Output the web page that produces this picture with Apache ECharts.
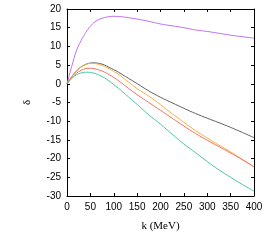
<!DOCTYPE html>
<html>
<head>
<meta charset="utf-8">
<script src="https://cdn.jsdelivr.net/npm/echarts@6/dist/echarts.min.js"></script>
<style>html,body{margin:0;padding:0;background:#fff}#c{width:275px;height:245px}</style>
</head>
<body>
<div id="c"></div>
<script>
const kValues = [0,10,20,30,40,50,60,70,80,90,100,110,125,150,175,200,225,250,275,300,325,350,375,400];
const purple = [0,4.6,8.8,11.5,13.7,15.4,16.6,17.3,17.7,17.95,18.05,18.0,17.8,17.3,16.7,16.0,15.5,15.0,14.4,14.0,13.5,13.0,12.6,12.2];
const black  = [0,1.9,3.4,4.5,5.2,5.55,5.6,5.4,5.05,4.4,3.8,3.1,1.95,0.05,-1.9,-3.6,-5.1,-6.55,-7.95,-9.2,-10.4,-11.65,-13.0,-14.4];
const orange = [0,1.9,3.4,4.5,5.15,5.45,5.4,5.1,4.7,4.0,3.3,2.55,1.1,-1.3,-3.3,-5.6,-8.0,-10.3,-12.5,-14.5,-16.4,-18.2,-20.2,-22.2];
const red    = [0,1.6,2.8,3.6,4.05,4.15,4.0,3.65,3.15,2.45,1.7,0.85,-0.6,-2.9,-5.0,-7.1,-9.2,-11.3,-13.3,-15.1,-16.8,-18.5,-20.3,-22.2];
const teal   = [0,1.4,2.4,2.9,3.1,3.05,2.75,2.25,1.6,0.75,-0.2,-1.2,-2.8,-5.5,-8.3,-10.8,-13.5,-16.1,-18.4,-20.8,-23.0,-25.0,-26.9,-28.7];
const xTicks = [0,50,100,150,200,250,300,350,400];
const yTicks = [-30,-25,-20,-15,-10,-5,0,5,10,15,20];

const pair = arr => kValues.map((k,i)=>[k,arr[i]]);
const mk = (name, arr, color) => ({
  name, type:'line', data: pair(arr), smooth: 0.4, showSymbol:false,
  lineStyle:{color, width:1}, itemStyle:{color}, animation:false, z: 3
});
const labelFont = {fontFamily:'Liberation Sans, Arial, sans-serif', fontSize:10, color:'#000'};
const chart = echarts.init(document.getElementById('c'), null, {renderer:'canvas'});
chart.setOption({
  animation:false,
  grid:{left:67, right:21, top:9, bottom:49},
  xAxis:[{
    type:'value', min:xTicks[0], max:xTicks[xTicks.length-1], interval:50,
    name:'k (MeV)', nameLocation:'middle', nameGap:25,
    nameTextStyle:{fontFamily:'Liberation Serif, Times New Roman, serif', fontSize:11, color:'#000'},
    axisLine:{onZero:false, lineStyle:{color:'#000', width:1}},
    axisTick:{inside:true, length:3, lineStyle:{color:'#000'}},
    axisLabel:Object.assign({margin:6}, labelFont),
    splitLine:{show:false}
  },{
    type:'value', position:'top', min:0, max:400, interval:50,
    axisLine:{onZero:false, lineStyle:{color:'#000', width:1}},
    axisTick:{inside:true, length:3, lineStyle:{color:'#000'}},
    axisLabel:{show:false}, splitLine:{show:false}
  }],
  yAxis:[{
    type:'value', min:yTicks[0], max:yTicks[yTicks.length-1], interval:5,
    name:'δ', nameLocation:'middle', nameGap:34, nameRotate:90,
    nameTextStyle:{fontFamily:'Liberation Serif, Times New Roman, serif', fontSize:11, color:'#000'},
    axisLine:{show:true, onZero:false, lineStyle:{color:'#000', width:1}},
    axisTick:{show:true, inside:true, length:3, lineStyle:{color:'#000'}},
    axisLabel:Object.assign({margin:6}, labelFont),
    splitLine:{show:false}
  },{
    type:'value', position:'right', min:-30, max:20, interval:5,
    axisLine:{show:true, onZero:false, lineStyle:{color:'#000', width:1}},
    axisTick:{show:true, inside:true, length:3, lineStyle:{color:'#000'}},
    axisLabel:{show:false}, splitLine:{show:false}
  }],
  series:[
    mk('purple', purple, '#c070f0'),
    mk('black', black, '#606060'),
    mk('orange', orange, '#f5b040'),
    mk('red', red, '#f27060'),
    mk('teal', teal, '#48c8a0')
  ]
});
</script>
</body>
</html>
